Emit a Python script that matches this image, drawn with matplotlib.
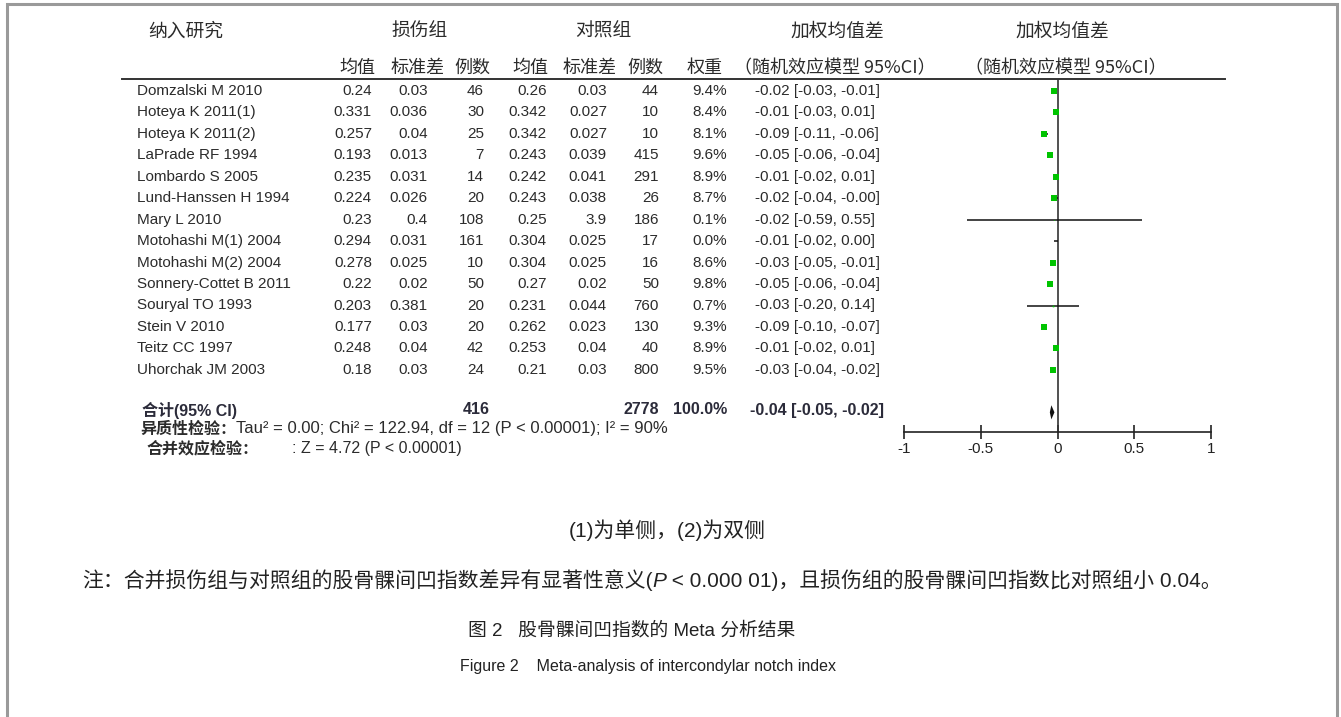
import matplotlib
matplotlib.use("Agg")
import matplotlib.pyplot as plt

plt.rcParams["font.family"] = ["Liberation Sans", "Noto Sans CJK SC"]

# data
studies = [
    "Domzalski M 2010", "Hoteya K 2011(1)", "Hoteya K 2011(2)", "LaPrade RF 1994",
    "Lombardo S 2005", "Lund-Hanssen H 1994", "Mary L 2010", "Motohashi M(1) 2004",
    "Motohashi M(2) 2004", "Sonnery-Cottet B 2011", "Souryal TO 1993", "Stein V 2010",
    "Teitz CC 1997", "Uhorchak JM 2003",
]
inj_mean = ["0.24", "0.331", "0.257", "0.193", "0.235", "0.224", "0.23", "0.294",
            "0.278", "0.22", "0.203", "0.177", "0.248", "0.18"]
inj_sd = ["0.03", "0.036", "0.04", "0.013", "0.031", "0.026", "0.4", "0.031",
          "0.025", "0.02", "0.381", "0.03", "0.04", "0.03"]
inj_n = [46, 30, 25, 7, 14, 20, 108, 161, 10, 50, 20, 20, 42, 24]
ctrl_mean = ["0.26", "0.342", "0.342", "0.243", "0.242", "0.243", "0.25", "0.304",
             "0.304", "0.27", "0.231", "0.262", "0.253", "0.21"]
ctrl_sd = ["0.03", "0.027", "0.027", "0.039", "0.041", "0.038", "3.9", "0.025",
           "0.025", "0.02", "0.044", "0.023", "0.04", "0.03"]
ctrl_n = [44, 10, 10, 415, 291, 26, 186, 17, 16, 50, 760, 130, 40, 800]
weight = [9.4, 8.4, 8.1, 9.6, 8.9, 8.7, 0.1, 0.0, 8.6, 9.8, 0.7, 9.3, 8.9, 9.5]
md = [-0.02, -0.01, -0.09, -0.05, -0.01, -0.02, -0.02, -0.01, -0.03, -0.05, -0.03,
      -0.09, -0.01, -0.03]
ci_lo = [-0.03, -0.03, -0.11, -0.06, -0.02, -0.04, -0.59, -0.02, -0.05, -0.06, -0.20,
         -0.10, -0.02, -0.04]
ci_hi = [-0.01, 0.01, -0.06, -0.04, 0.01, -0.0, 0.55, 0.00, -0.01, -0.04, 0.14,
         -0.07, 0.01, -0.02]

total_n_inj = 416
total_n_ctrl = 2778
total_weight = 100.0
total_md = -0.04
total_lo = -0.05
total_hi = -0.02

axis_ticks = [-1, -0.5, 0, 0.5, 1]
axis_labels = ["-1", "-0.5", "0", "0.5", "1"]

W, H = 1341, 717
TXT = "#2b2b2b"
TOT = "#2b2b3a"
GREEN = "#00c400"

fig = plt.figure(figsize=(W / 100, H / 100), dpi=100)
bg = fig.add_axes([0, 0, 1, 1])
bg.set_xlim(0, W)
bg.set_ylim(H, 0)
bg.axis("off")

# page frame (no bottom edge in the crop)
bg.plot([7, 7, 1337, 1337], [H, 4, 4, H], color="#9a9a9a", lw=2.2, solid_joinstyle="miter")

cjk = ["Noto Sans CJK SC", "Liberation Sans"]

# header rows
for x, s in [(186, "纳入研究"), (420, "损伤组"), (603, "对照组"), (837, "加权均值差"), (1062, "加权均值差")]:
    bg.text(x, 31, s, ha="center", va="center", fontsize=13.5, family=cjk, color=TXT)
for x, s in [(357, "均值"), (418, "标准差"), (472, "例数"), (530, "均值"), (590, "标准差"),
             (645, "例数"), (705, "权重"), (835, "（随机效应模型 95%CI）"),
             (1066, "（随机效应模型 95%CI）")]:
    bg.text(x, 68, s, ha="center", va="center", fontsize=13, family=cjk, color=TXT)
bg.plot([122, 1225], [79, 79], color="#333333", lw=1.4)

# study rows
row_y0, row_dy = 91, 21.45
fs = 11
for i, name in enumerate(studies):
    y = row_y0 + row_dy * i
    bg.text(137, y, name, ha="left", va="center", fontsize=fs, color=TXT)
    cols = [(372, inj_mean[i]), (428, inj_sd[i]), (484, str(inj_n[i])), (547, ctrl_mean[i]),
            (607, ctrl_sd[i]), (659, str(ctrl_n[i])), (727, f"{weight[i]:.1f}%")]
    for x, s in cols:
        bg.text(x, y, s, ha="right", va="center", fontsize=fs, color=TXT)
    bg.text(755, y, f"{md[i]:.2f} [{ci_lo[i]:.2f}, {ci_hi[i]:.2f}]", ha="left", va="center",
            fontsize=fs, color=TXT)

# total row
ty = 410
tfs = 11.5
bg.text(142, ty, "合计(95% CI)", ha="left", va="center", fontsize=tfs, fontweight="bold", color=TOT)
bg.text(490, ty, str(total_n_inj), ha="right", va="center", fontsize=tfs, fontweight="bold", color=TOT)
bg.text(659, ty, str(total_n_ctrl), ha="right", va="center", fontsize=tfs, fontweight="bold", color=TOT)
bg.text(727, ty, f"{total_weight:.1f}%", ha="right", va="center", fontsize=tfs, fontweight="bold",
        color=TOT)
bg.text(750, ty, f"{total_md:.2f} [{total_lo:.2f}, {total_hi:.2f}]", ha="left", va="center",
        fontsize=tfs, fontweight="bold", color=TOT)

bg.text(140, 429, "异质性检验：", ha="left", va="center", fontsize=11.5, fontweight="bold",
        family=cjk, color=TXT)
bg.text(236, 429, "Tau² = 0.00; Chi² = 122.94, df = 12 (P < 0.00001); I² = 90%", ha="left",
        va="center", fontsize=12, color=TXT)
bg.text(147, 448, "合并效应检验：", ha="left", va="center", fontsize=11.5, fontweight="bold",
        family=cjk, color=TXT)
bg.text(292, 448, ": Z = 4.72 (P < 0.00001)", ha="left", va="center", fontsize=11.5, color=TXT)

# forest panel
fx0, fx1, fy_top, fy_bot = 904, 1211, 79, 432
ax = fig.add_axes([fx0 / W, 1 - fy_bot / H, (fx1 - fx0) / W, (fy_bot - fy_top) / H])
ax.patch.set_visible(False)
ax.set_xlim(-1, 1)
ax.set_ylim((fy_bot - row_y0) / row_dy, (fy_top - row_y0) / row_dy)
for side in ["top", "left", "right"]:
    ax.spines[side].set_visible(False)
ax.spines["bottom"].set_color("#222222")
ax.spines["bottom"].set_linewidth(1.2)
ax.set_yticks([])
ax.set_xticks(axis_ticks)
ax.set_xticklabels(axis_labels)
ax.tick_params(axis="x", direction="inout", length=10, width=1.2, labelsize=11,
               colors="#222222", pad=2)
ax.axvline(0, color="#333333", lw=1.2)

for i in range(len(studies)):
    ax.plot([ci_lo[i], ci_hi[i]], [i, i], color="#111111", lw=1.1, solid_capstyle="butt")
    if weight[i] > 0:
        ax.plot(md[i], i, marker="s", ms=1.4 * weight[i] ** 0.5, color=GREEN, mec=GREEN, mew=0)

tr = len(studies) + 0.98
ax.fill([total_lo, total_md, total_hi, total_md], [tr, tr - 0.33, tr, tr + 0.33],
        color="#111111", lw=0)

# notes and caption
nfs = 15
bg.text(667, 530, "(1)为单侧，(2)为双侧", ha="center", va="center", fontsize=nfs, color="#222222")
t = bg.text(82, 580, "注：合并损伤组与对照组的股骨髁间凹指数差异有显著性意义(", ha="left",
            va="center", fontsize=nfs, color="#222222")
t = bg.annotate("P", xy=(1, 0), xycoords=t, va="bottom", fontsize=nfs, style="italic", color="#222222")
t = bg.annotate(" < 0.000 01)，且损伤组的股骨髁间凹指数比对照组小 0.04。", xy=(1, 0),
                xycoords=t, va="bottom", fontsize=nfs, color="#222222")
bg.text(468, 631, "图 2   股骨髁间凹指数的 Meta 分析结果", ha="left", va="center", fontsize=13.5,
        color="#222222")
bg.text(460, 666, "Figure 2    Meta-analysis of intercondylar notch index", ha="left",
        va="center", fontsize=11.5, color="#222222")

fig.savefig("out.png", dpi=100, facecolor="white")
